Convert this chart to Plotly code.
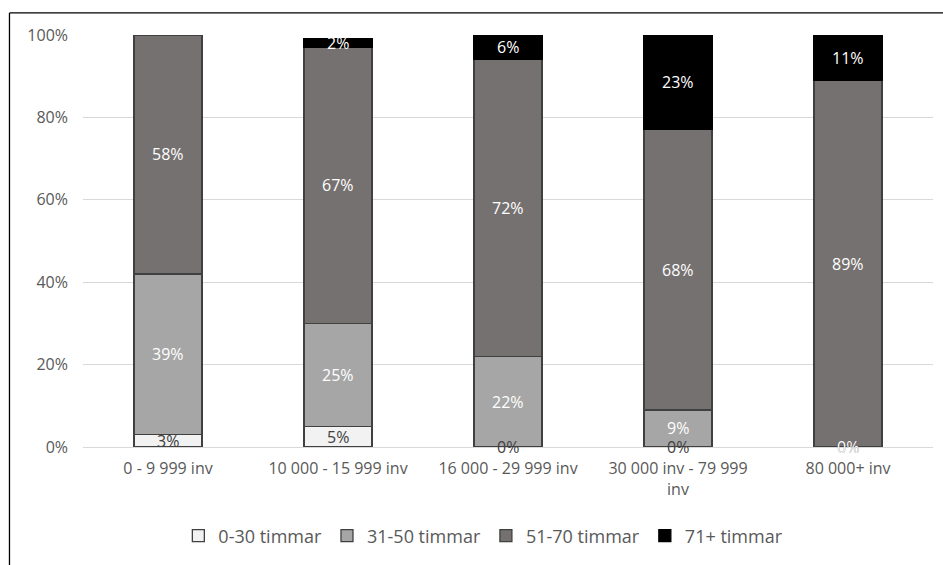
import plotly.graph_objects as go

categories = ["0 - 9 999 inv", "10 000 - 15 999 inv", "16 000 - 29 999 inv",
              "30 000 inv - 79 999<br>inv", "80 000+ inv"]
series_names = ["0-30 timmar", "31-50 timmar", "51-70 timmar", "71+ timmar"]
s_0_30 = [3, 5, 0, 0, 0]
s_31_50 = [39, 25, 22, 9, 0]
s_51_70 = [58, 67, 72, 68, 89]
s_71 = [None, 2, 6, 23, 11]
y_ticks = [0, 20, 40, 60, 80, 100]
y_tick_labels = ["0%", "20%", "40%", "60%", "80%", "100%"]

series = [s_0_30, s_31_50, s_51_70, s_71]
fills = ["#f2f2f2", "#a6a6a6", "#767171", "#000000"]
outlines = ["#404040", "#404040", "#404040", "#000000"]
label_colors = ["#404040", "#ffffff", "#ffffff", "#ffffff"]

FONT = "Open Sans"
fig = go.Figure()
for name, vals, fc, lc in zip(series_names, series, fills, outlines):
    fig.add_trace(go.Bar(
        x=categories, y=vals, name=name, width=0.4,
        marker=dict(color=fc, line=dict(color=lc, width=1.3)),
        hoverinfo="skip",
    ))

annotations = []
base = [0] * len(categories)
for vals, col in zip(series, label_colors):
    for i, v in enumerate(vals):
        if v is None:
            continue
        annotations.append(dict(
            x=categories[i], y=base[i] + v / 2, xref="x", yref="y",
            text=f"{v}%", showarrow=False,
            font=dict(family=FONT, size=16, color=col),
        ))
        base[i] += v

shapes = [
    dict(type="line", xref="paper", yref="paper", x0=-0.0865, x1=1.02,
         y0=1.0535, y1=1.0535, line=dict(color="#000000", width=1.3)),
    dict(type="line", xref="paper", yref="paper", x0=-0.0865, x1=-0.0865,
         y0=1.0535, y1=-0.3, line=dict(color="#000000", width=1.3)),
]

fig.update_layout(
    barmode="stack",
    width=943, height=565,
    margin=dict(l=83, r=10, t=35, b=114),
    paper_bgcolor="white", plot_bgcolor="white",
    font=dict(family=FONT, color="#595959", size=16),
    annotations=annotations,
    shapes=shapes,
    legend=dict(orientation="h", x=0.471, xanchor="center", y=-0.216,
                yanchor="middle", font=dict(family=FONT, size=18, color="#595959"),
                traceorder="normal"),
    xaxis=dict(showgrid=False, showline=False, ticks="",
               tickfont=dict(family=FONT, size=16, color="#595959"),
               ticklabelstandoff=10),
    yaxis=dict(range=[0, 100], tickmode="array", tickvals=y_ticks,
               ticktext=y_tick_labels,
               showgrid=True, gridcolor="#d9d9d9", gridwidth=1,
               zeroline=True, zerolinecolor="#d9d9d9", zerolinewidth=1,
               showline=False, ticks="",
               tickfont=dict(family=FONT, size=16, color="#595959"),
               ticklabelstandoff=14),
)

fig.write_html("out.html")
